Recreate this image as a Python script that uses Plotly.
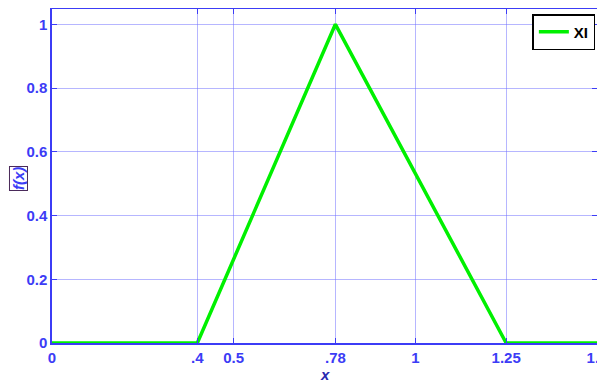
import plotly.graph_objects as go

x_vals = [0, 0.4, 0.78, 1.25, 1.5]
y_vals = [0, 0, 1, 0, 0]
x_ticks = [0, 0.4, 0.5, 0.78, 1, 1.25, 1.5]
x_ticklabels = ["0", ".4", "0.5", ".78", "1", "1.25", "1.5"]
y_ticks = [0, 0.2, 0.4, 0.6, 0.8, 1]
y_ticklabels = ["0", "0.2", "0.4", "0.6", "0.8", "1"]

blue = "#3c3cf6"
grid = "rgba(110,110,255,0.5)"
font_bold = dict(family="Liberation Sans, Arial", size=15, color=blue, weight="bold")

fig = go.Figure()
fig.add_trace(go.Scatter(x=x_vals, y=y_vals, mode="lines", name="XI",
                         line=dict(color="#00f000", width=3.5)))

# page body has an 8px margin, so the figure is sized/offset to suit
fig.update_layout(
    width=597, height=375,
    margin=dict(l=44, r=8, t=1, b=40),
    plot_bgcolor="white", paper_bgcolor="white",
    showlegend=True,
    legend=dict(x=0.997, y=0.985, xanchor="right", yanchor="top",
                bordercolor="black", borderwidth=1.5, bgcolor="white",
                font=dict(family="Liberation Sans, Arial", size=15, color="black", weight="bold"),
                itemwidth=30, tracegroupgap=0),
)
fig.update_xaxes(range=[0, 1.5], tickvals=x_ticks, ticktext=x_ticklabels,
                 showgrid=True, gridcolor=grid, gridwidth=1,
                 showline=True, linecolor=blue, linewidth=1.5, mirror="ticks",
                 ticks="inside", ticklen=5, tickcolor=blue, ticklabeloverflow="allow",
                 tickfont=font_bold, zeroline=False, automargin=False)
fig.update_yaxes(range=[0, 1.048], tickvals=y_ticks, ticktext=y_ticklabels,
                 showgrid=True, gridcolor=grid, gridwidth=1,
                 showline=True, linecolor=blue, linewidth=1.5, mirror="ticks",
                 ticks="inside", ticklen=5, tickcolor=blue, ticklabeloverflow="allow",
                 tickfont=font_bold, zeroline=False, automargin=False)

fig.add_annotation(text="<i>f(x)</i>", xref="paper", yref="paper",
                   x=-0.0624, y=0.494, xanchor="center", yanchor="middle",
                   textangle=-90, showarrow=False,
                   font=dict(family="Liberation Sans, Arial", size=15, color=blue, weight="bold"),
                   bordercolor="#4a2a5a", borderwidth=1, borderpad=0)
fig.add_annotation(text="<i>x</i>", xref="paper", yref="paper",
                   x=0.5, y=-0.093, xanchor="center", yanchor="middle", showarrow=False,
                   font=dict(family="Liberation Sans, Arial", size=15, color="#2a2ab0", weight="bold"))

fig.write_html("out.html")
